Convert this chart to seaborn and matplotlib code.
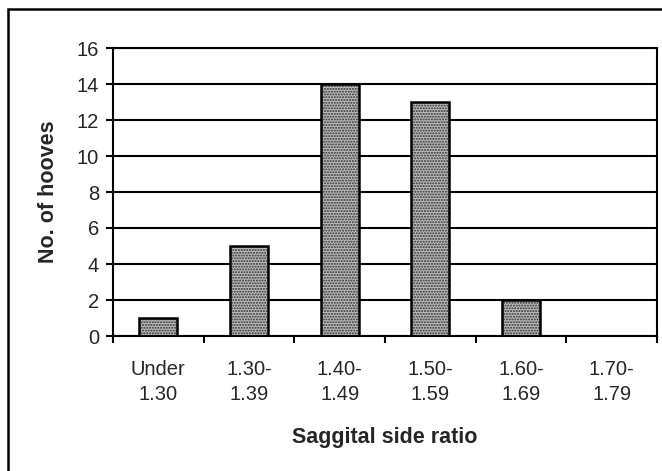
import numpy as np
import pandas as pd
import matplotlib.pyplot as plt
import seaborn as sns
from matplotlib.patches import Rectangle

sns.set_style("white")
plt.rcParams['font.family'] = ['Liberation Sans', 'DejaVu Sans']

categories = ["Under\n1.30", "1.30-\n1.39", "1.40-\n1.49", "1.50-\n1.59", "1.60-\n1.69", "1.70-\n1.79"]
counts = [1, 5, 14, 13, 2, 0]
y_ticks = [0, 2, 4, 6, 8, 10, 12, 14, 16]

df = pd.DataFrame({"ratio": categories, "hooves": counts})

fig = plt.figure(figsize=(6.62, 4.71), dpi=100)
ax = fig.add_axes([113/662, 1 - 336/471, 544/662, 288/471])

# gridlines first so bars sit on top
ax.set_axisbelow(True)
ax.yaxis.grid(True, color='black', linewidth=1.5)

# stippled fill, then a black outline on top
sns.barplot(data=df, x="ratio", y="hooves", ax=ax, width=0.42,
            color='#bcbcbc', edgecolor='#2e2e2e', linewidth=0, hatch='......',
            saturation=1)
sns.barplot(data=df, x="ratio", y="hooves", ax=ax, width=0.42,
            facecolor='none', edgecolor='black', linewidth=1.8)

ax.set_xlim(-0.5, 5.5)
ax.set_ylim(0, 16)
ax.set_yticks(y_ticks)
ax.tick_params(axis='y', labelsize=14.5, length=5, width=1.5, pad=5, left=True,
               color='black')

# ticks at category boundaries, labels centred on categories
ax.set_xticks(np.arange(-0.5, 6, 1))
ax.set_xticklabels([""] * 7)
ax.set_xticks(np.arange(6), minor=True)
ax.set_xticklabels(categories, minor=True, linespacing=1.4)
ax.tick_params(axis='x', which='major', length=5, width=1.5, bottom=True, color='black')
ax.tick_params(axis='x', which='minor', length=0, labelsize=14.5, pad=17)

for s in ax.spines.values():
    s.set_visible(True)
    s.set_color('black')
    s.set_linewidth(1.5)

ax.set_xlabel("Saggital side ratio", fontsize=15.5, fontweight='bold')
ax.set_ylabel("No. of hooves", fontsize=15.5, fontweight='bold')
ax.xaxis.set_label_coords(0.5, (336 - 437) / 288)
ax.xaxis.label.set_va('center')
ax.yaxis.set_label_coords((48 - 113) / 544, 0.5)
ax.yaxis.label.set_va('center')

# outer chart border (cut off at right and bottom in the scan)
fig.patches.append(Rectangle((8/662, -0.2), 1.2, 1.2 - 9/471,
                             transform=fig.transFigure, fill=False,
                             edgecolor='black', linewidth=1.8))

fig.savefig("out.png", dpi=100)
